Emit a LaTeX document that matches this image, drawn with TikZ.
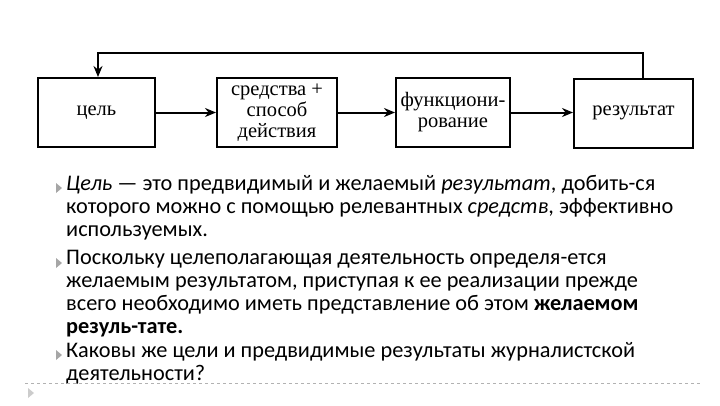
\documentclass[tikz,border=0pt]{standalone}
\usepackage{fontspec}
\setmainfont{Liberation Serif}
\newfontfamily\bodyfont{Carlito}
\usetikzlibrary{arrows.meta}
\begin{document}
\begin{tikzpicture}[x=1pt,y=-1pt,
  box/.style={draw,line width=2pt,minimum height=69pt,inner sep=0pt,font=\fontsize{20.5}{21}\selectfont,align=center},
  arr/.style={line width=2pt,-{Stealth[length=11pt,width=9pt]}},
  bul/.style={fill=gray!70,draw=none},
  txt/.style={anchor=north west,inner sep=0pt,align=flush left,text width=660pt,font=\bodyfont\fontsize{22.3}{23}\selectfont}]
\useasboundingbox (0,0) rectangle (720,405);
\node[box,minimum width=117pt] (a) at (96.5,112.5) {цель};
\node[box,minimum width=120pt] (b) at (277,112.5) {средства +\\способ\\действия};
\node[box,minimum width=114pt] (c) at (453,112.5) {функциони-\\рование};
\node[box,minimum width=119pt] (d) at (633.5,113) {результат};
\draw[arr] (a) -- (b);
\draw[arr] (b) -- (c);
\draw[arr] (c.east) -- (d.west |- c.east);
\coordinate (t1) at (643,53);
\coordinate (t2) at (98,53);
\draw[arr] (d.north -| t1) -- (t1) -- (t2) -- (a.north -| t2);
\node[txt] (p1) at (66,175) {\textit{Цель} — это предвидимый и желаемый \textit{результат}, добить-ся\\которого можно с помощью релевантных \textit{средств}, эффективно\\используемых.};
\node[txt] (p2) at (66,250) {Поскольку целеполагающая деятельность определя-ется\\желаемым результатом, приступая к ее реализации прежде\\всего необходимо иметь представление об этом \textbf{желаемом}\\\textbf{резуль-тате.}};
\node[txt] (p3) at (66,342) {Каковы же цели и предвидимые результаты журналистской\\деятельности?};
\foreach \yy in {188,263,355}{\fill[bul] (56,\yy-5) -- (62,\yy) -- (56,\yy+5) -- cycle;}
\draw[gray!60,dashed,line width=0.6pt] (25,383) -- (700,383);
\fill[gray!40] (28,388) -- (34,393) -- (28,398) -- cycle;
\end{tikzpicture}
\end{document}
